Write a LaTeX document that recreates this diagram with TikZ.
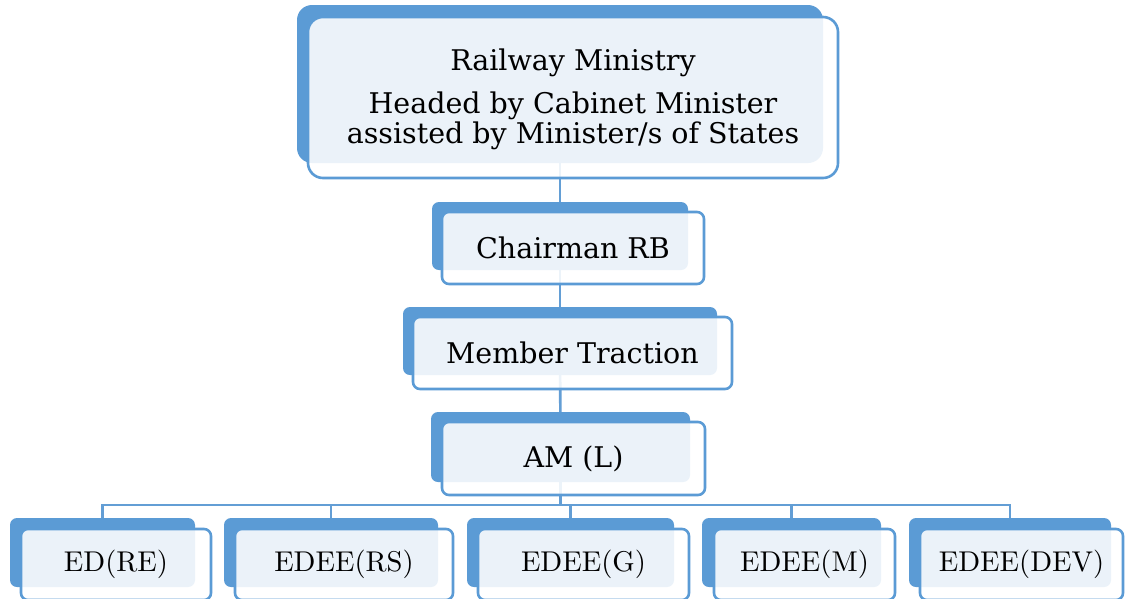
\documentclass[tikz,border=0pt]{standalone}
\usepackage{fontspec}
\newfontfamily\headfont{DejaVu Serif}
\newfontfamily\lowfont{lmroman10-regular}[Extension=.otf]
\definecolor{accent}{HTML}{5B9BD5}
\definecolor{linkblue}{HTML}{639ED5}
\pgfdeclarelayer{background}
\pgfsetlayers{background,main}
\tikzset{
  backbox/.style={rectangle, rounded corners=#1, fill=accent, draw=none,
    inner sep=0pt, outer sep=0pt},
  backbox/.default=7pt,
  frontbox/.style={rectangle, rounded corners=#1, draw=accent, line width=2.6pt,
    fill=white, fill opacity=0.88, text opacity=1, inner sep=0pt, outer sep=0pt,
    align=center},
  frontbox/.default=7pt,
  upper/.style={font=\headfont\fontsize{28.5}{30}\selectfont},
  lower/.style={font=\lowfont\fontsize{28.6}{30}\selectfont},
  link/.style={draw=linkblue, line width=2.6pt}
}
\begin{document}
\begin{tikzpicture}[x=1pt, y=-1pt]
\useasboundingbox (0,0) rectangle (1125,598);
\clip (0,0) rectangle (1125,598);

% back panels (solid blue)
\node[backbox=15pt, minimum width=526pt, minimum height=158pt] (minB) at (560,84) {};
\node[backbox, minimum width=256pt, minimum height=68pt] (chairB) at (560,236) {};
\node[backbox, minimum width=314pt, minimum height=68pt] (memB) at (560,341) {};
\node[backbox, minimum width=259pt, minimum height=70pt] (amB) at (560.5,447) {};
\node[backbox, minimum width=185pt, minimum height=69pt] (e1B) at (102.5,552.5) {};
\node[backbox, minimum width=214pt, minimum height=69pt] (e2B) at (331,552.5) {};
\node[backbox, minimum width=207pt, minimum height=69pt] (e3B) at (570.5,552.5) {};
\node[backbox, minimum width=179pt, minimum height=69pt] (e4B) at (791.5,552.5) {};
\node[backbox, minimum width=202pt, minimum height=69pt] (e5B) at (1010,552.5) {};

% connectors, kept underneath the panels
\begin{pgfonlayer}{background}
\fill[white] (0,0) rectangle (1125,598);
\draw[link] (minB.center) -- (chairB.center);
\draw[link] (chairB.center) -- (memB.center);
\draw[link] (memB.center) -- (amB.center);
\coordinate (bus) at (560.5,505);
\draw[link] (amB.center) -- (bus);
\draw[link, line cap=rect] (e1B.north |- bus) -- (e5B.north |- bus);
\foreach \e in {e1B,e2B,e3B,e4B,e5B}
  \draw[link] (\e.north |- bus) -- (\e.center);
\end{pgfonlayer}

% front cards with the titles
\node[frontbox=15pt, upper, minimum width=530pt, minimum height=161pt] (min) at (573,97.5) {};
\node[upper, align=center, inner sep=0pt] (minText) at (573,99)
  {Railway Ministry\\[13pt]Headed by Cabinet Minister\\assisted by Minister/s of States};
\node[frontbox, upper, minimum width=262pt, minimum height=72pt] (chair) at (573,248) {Chairman RB};
\node[frontbox, upper, minimum width=319pt, minimum height=72pt] (mem) at (572.5,353) {Member Traction};
\node[frontbox, upper, minimum width=263pt, minimum height=73pt] (am) at (573.5,458.5) {AM (L)};
\node[frontbox, lower, minimum width=190pt, minimum height=71pt] (e1) at (116,564.5) {ED(RE)};
\node[frontbox, lower, minimum width=218pt, minimum height=71pt] (e2) at (344,564.5) {EDEE(RS)};
\node[frontbox, lower, minimum width=211pt, minimum height=71pt] (e3) at (583.5,564.5) {EDEE(G)};
\node[frontbox, lower, minimum width=181pt, minimum height=71pt] (e4) at (804.5,564.5) {EDEE(M)};
\node[frontbox, lower, minimum width=203pt, minimum height=71pt] (e5) at (1021.5,564.5) {EDEE(DEV)};
\end{tikzpicture}
\end{document}
